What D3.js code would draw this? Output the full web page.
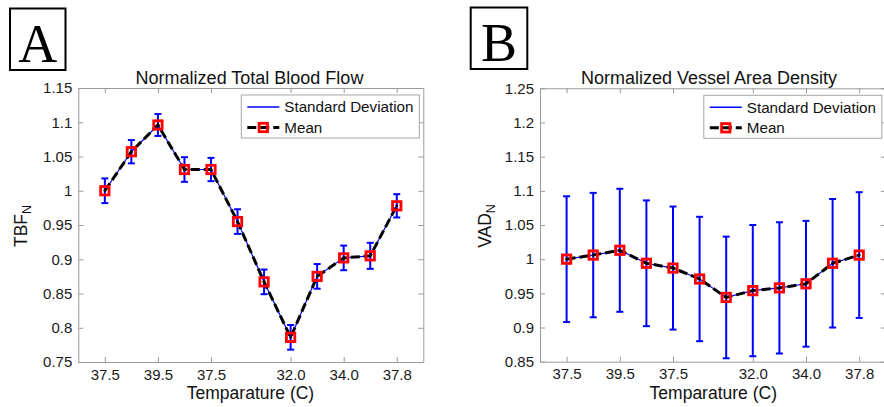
<!DOCTYPE html>
<html><head><meta charset="utf-8">
<script src="https://cdn.jsdelivr.net/npm/d3@7"></script>
<style>body{margin:0;background:#fff}svg{display:block}</style>
</head><body><svg id="chart" width="884" height="407"></svg>
<script>
// ---- data ----
const pointIndex = [1,2,3,4,5,6,7,8,9,10,11,12];
const xTickPositions = [1,3,5,8,10,12];
const xTickLabels = ["37.5","39.5","37.5","32.0","34.0","37.8"];

const tbfMean = [1.000,1.057,1.096,1.031,1.031,0.955,0.867,0.786,0.875,0.902,0.905,0.978];
const tbfSD   = [0.018,0.017,0.016,0.018,0.017,0.018,0.018,0.018,0.018,0.018,0.019,0.017];
const tbfYTicks = [0.75,0.8,0.85,0.9,0.95,1,1.05,1.1,1.15];
const tbfYTickLabels = ["0.75","0.8","0.85","0.9","0.95","1","1.05","1.1","1.15"];

const vadMean = [1.000,1.006,1.013,0.994,0.987,0.971,0.944,0.954,0.958,0.964,0.994,1.006];
const vadSD   = [0.092,0.091,0.090,0.092,0.090,0.091,0.089,0.096,0.096,0.092,0.094,0.092];
const vadYTicks = [0.85,0.9,0.95,1,1.05,1.1,1.15,1.2,1.25];
const vadYTickLabels = ["0.85","0.9","0.95","1","1.05","1.1","1.15","1.2","1.25"];

const legendLabels = ["Standard Deviation","Mean"];
const xAxisLabel = "Temparature (C)";

// ---- drawing ----
const svg = d3.select("#chart");
const FONT = "'Liberation Sans', Arial, sans-serif";
const AXC = "#9a9a9a";

function panel(o) {
  const x = d3.scaleLinear().domain([0,13]).range([o.left, o.right]);
  const y = d3.scaleLinear().domain([o.yTicks[0], o.yTicks[o.yTicks.length-1]]).range([o.bottom, o.top]);
  const g = svg.append("g");

  // panel letter
  g.append("rect").attr("x", o.box[0]).attr("y", o.box[1]).attr("width", o.box[2]).attr("height", o.box[3])
    .attr("fill","none").attr("stroke","#000").attr("stroke-width",2);
  g.append("text").attr("x", o.box[0]+o.box[2]/2).attr("y", o.box[1]+o.box[3]-8.5)
    .attr("text-anchor","middle").attr("font-family","'Liberation Serif', 'Times New Roman', serif")
    .attr("font-size",54).attr("fill","#000").text(o.letter);

  // title
  g.append("text").attr("x", o.titleX).attr("y", 83.5).attr("text-anchor","middle")
    .attr("font-family",FONT).attr("font-size",18).attr("fill","#111").text(o.title);

  // axes (ticks inward, box)
  const fmtY = (d) => o.yTickLabels[o.yTicks.indexOf(d)];
  const fmtX = (d) => xTickLabels[xTickPositions.indexOf(d)];
  const axL = g.append("g").attr("transform",`translate(${o.left},0)`)
    .call(d3.axisLeft(y).tickValues(o.yTicks).tickSizeInner(-5).tickSizeOuter(0).tickPadding(6).tickFormat(fmtY));
  const axR = g.append("g").attr("transform",`translate(${o.right},0)`)
    .call(d3.axisRight(y).tickValues(o.yTicks).tickSizeInner(-5).tickSizeOuter(0).tickFormat(""));
  const axB = g.append("g").attr("transform",`translate(0,${o.bottom})`)
    .call(d3.axisBottom(x).tickValues(xTickPositions).tickSizeInner(-5).tickSizeOuter(0).tickPadding(7).tickFormat(fmtX));
  const axT = g.append("g").attr("transform",`translate(0,${o.top})`)
    .call(d3.axisTop(x).tickValues(xTickPositions).tickSizeInner(-5).tickSizeOuter(0).tickFormat(""));
  [axL,axR,axB,axT].forEach(a => {
    a.select(".domain").attr("stroke",AXC).attr("stroke-width",1);
    a.selectAll(".tick line").attr("stroke",AXC);
    a.selectAll("text").attr("font-family",FONT).attr("font-size",15).attr("fill","#1a1a1a");
  });

  // y label with subscript
  const yl = g.append("text").attr("transform",`translate(${o.yLabelX},${(o.top+o.bottom)/2+1}) rotate(-90)`)
    .attr("text-anchor","middle").attr("font-family",FONT).attr("font-size",17.5).attr("fill","#111");
  yl.append("tspan").text(o.yLabel);
  yl.append("tspan").attr("font-size",12.5).attr("dy",4).text("N");

  // x label
  g.append("text").attr("x", o.xLabelX).attr("y", 399).attr("text-anchor","middle")
    .attr("font-family",FONT).attr("font-size",17.5).attr("fill","#111").text(xAxisLabel);

  const pts = pointIndex.map((d,i) => ({x:d, m:o.mean[i], s:o.sd[i]}));

  // error bars
  const eb = g.append("g").attr("stroke","#0000ff").attr("stroke-width",2);
  pts.forEach(p => {
    eb.append("line").attr("x1",x(p.x)).attr("x2",x(p.x)).attr("y1",y(p.m-p.s)).attr("y2",y(p.m+p.s));
    [p.m-p.s, p.m+p.s].forEach(v => eb.append("line").attr("x1",x(p.x)-3.5).attr("x2",x(p.x)+3.5).attr("y1",y(v)).attr("y2",y(v)));
  });

  const line = d3.line().x(p => x(p.x)).y(p => y(p.m));
  g.append("path").datum(pts).attr("d",line).attr("fill","none").attr("stroke","#0000ff").attr("stroke-width",1.2);
  g.append("path").datum(pts).attr("d",line).attr("fill","none").attr("stroke","#000").attr("stroke-width",3)
    .attr("stroke-dasharray","9,4");

  // markers
  g.append("g").selectAll("rect").data(pts).join("rect")
    .attr("x", p => x(p.x)-4.2).attr("y", p => y(p.m)-4.2).attr("width",8.4).attr("height",8.4)
    .attr("fill","none").attr("stroke","#ff0000").attr("stroke-width",2.8);
  g.append("g").selectAll("circle").data(pts).join("circle")
    .attr("cx", p => x(p.x)).attr("cy", p => y(p.m)).attr("r",1.3).attr("fill","#000");

  // legend
  const lx = o.right - 182, ly = o.top + 7;
  const lg = g.append("g");
  lg.append("rect").attr("x",lx).attr("y",ly).attr("width",178).attr("height",43)
    .attr("fill","#fff").attr("stroke","#a8a8a8").attr("stroke-width",1);
  lg.append("line").attr("x1",lx+6).attr("x2",lx+38).attr("y1",ly+12).attr("y2",ly+12)
    .attr("stroke","#0000ff").attr("stroke-width",1.5);
  lg.append("line").attr("x1",lx+6).attr("x2",lx+38).attr("y1",ly+32.5).attr("y2",ly+32.5)
    .attr("stroke","#000").attr("stroke-width",3).attr("stroke-dasharray","9,4");
  lg.append("rect").attr("x",lx+22-4.2).attr("y",ly+32.5-4.2).attr("width",8.4).attr("height",8.4)
    .attr("fill","none").attr("stroke","#ff0000").attr("stroke-width",2.8);
  legendLabels.forEach((t,i) => {
    lg.append("text").attr("x",lx+43).attr("y",ly+12+i*20.5).attr("dy","0.36em")
      .attr("font-family",FONT).attr("font-size",15.2).attr("fill","#111").text(t);
  });
}

panel({letter:"A", box:[10,8.5,55.5,61.5], title:"Normalized Total Blood Flow", titleX:249.5,
  left:78.3, right:423.3, top:88, bottom:362, yTicks:tbfYTicks, yTickLabels:tbfYTickLabels,
  mean:tbfMean, sd:tbfSD, yLabel:"TBF", yLabelX:27, xLabelX:250.5});
panel({letter:"B", box:[470.7,7.5,56.6,61.5], title:"Normalized Vessel Area Density", titleX:709,
  left:540, right:885.8, top:88.3, bottom:361.7, yTicks:vadYTicks, yTickLabels:vadYTickLabels,
  mean:vadMean, sd:vadSD, yLabel:"VAD", yLabelX:490.5, xLabelX:713.3});
</script></body></html>
